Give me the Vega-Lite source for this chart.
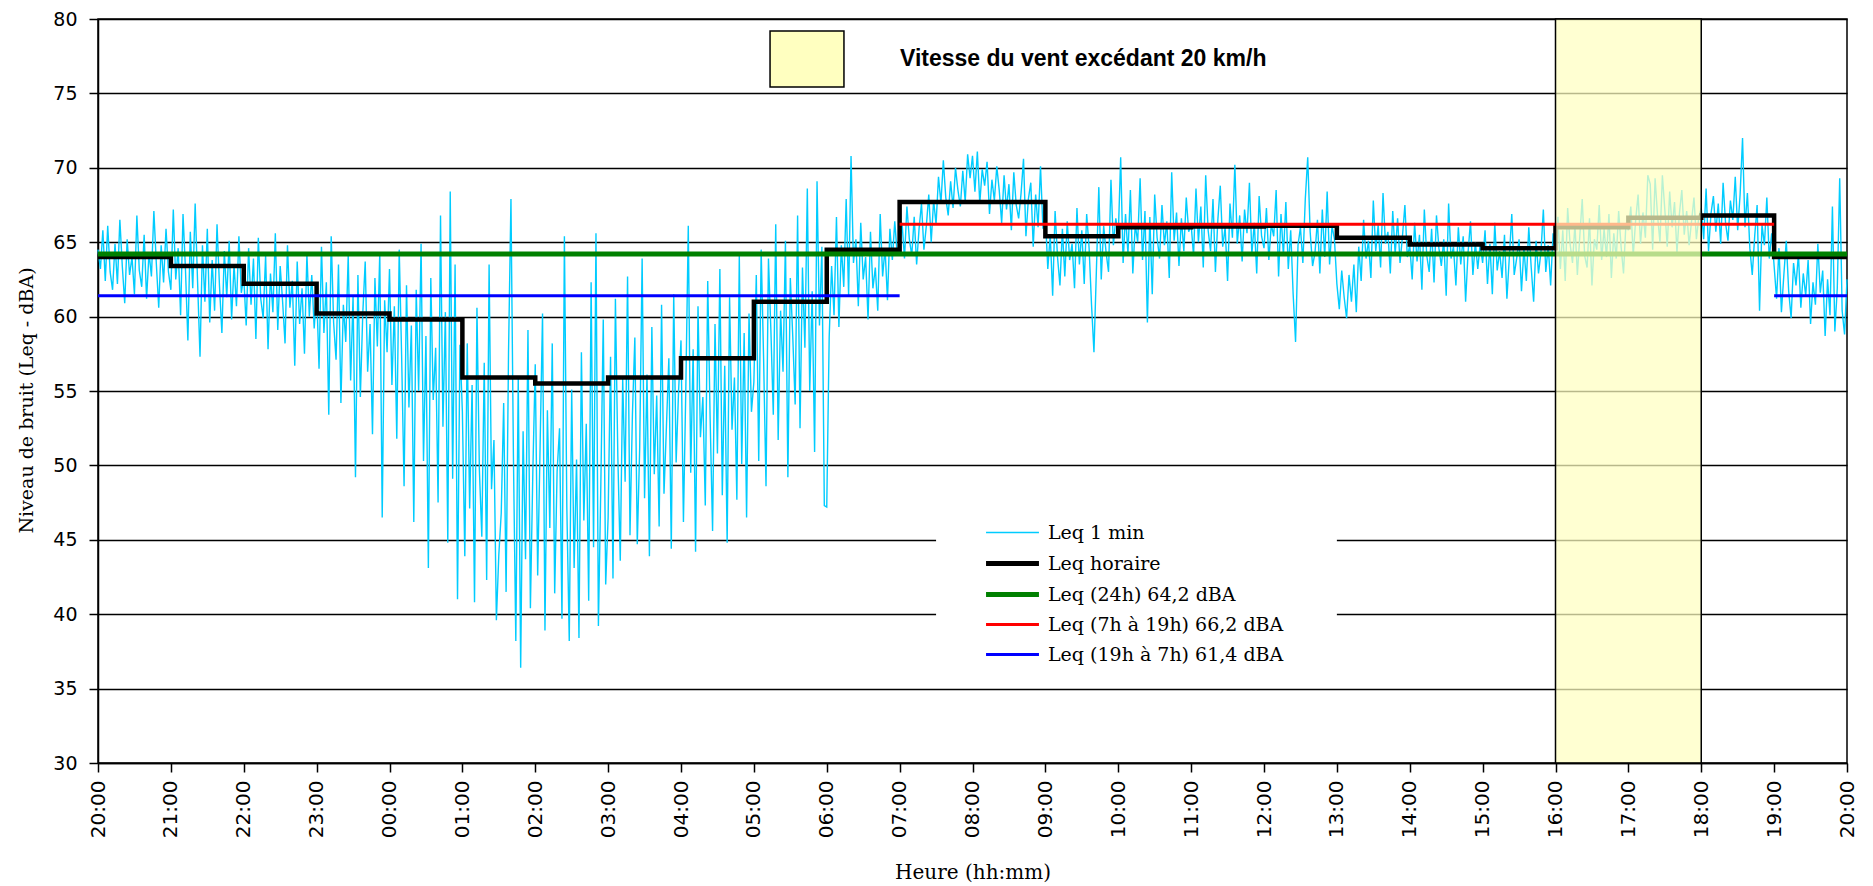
{
"$schema": "https://vega.github.io/schema/vega-lite/v6.json",
"width": 1749, "height": 744,
"autosize": {"type": "none"},
"padding": {"left": 98, "top": 19, "right": 26, "bottom": 123},
"background": "white",
"config": {"view": {"stroke": "black", "strokeWidth": 1.5}},
"datasets": {
"m": [
{"t":0,"v":64.5},{"t":2,"v":63.2},{"t":4,"v":65.8},{"t":6,"v":62.4},{"t":8,"v":66.1},{"t":10,"v":63.0},{"t":12,"v":61.8},{"t":14,"v":64.9},{"t":16,"v":62.2},{"t":18,"v":66.5},{"t":20,"v":63.4},{"t":22,"v":60.9},{"t":24,"v":65.2},{"t":26,"v":62.8},{"t":28,"v":64.0},{"t":30,"v":61.5},{"t":32,"v":66.8},{"t":34,"v":63.1},{"t":36,"v":62.0},{"t":38,"v":65.5},{"t":40,"v":61.2},{"t":42,"v":64.3},{"t":44,"v":62.7},{"t":46,"v":67.1},{"t":48,"v":63.6},{"t":50,"v":60.6},{"t":52,"v":64.8},{"t":54,"v":62.3},{"t":56,"v":65.9},{"t":58,"v":63.0},
{"t":60,"v":61.8},{"t":62,"v":67.2},{"t":64,"v":62.5},{"t":66,"v":64.6},{"t":68,"v":60.1},{"t":70,"v":66.9},{"t":72,"v":63.2},{"t":74,"v":58.4},{"t":76,"v":65.7},{"t":78,"v":61.9},{"t":80,"v":67.6},{"t":82,"v":62.3},{"t":84,"v":57.3},{"t":86,"v":64.8},{"t":88,"v":61.0},{"t":90,"v":65.9},{"t":92,"v":59.6},{"t":94,"v":63.8},{"t":96,"v":60.4},{"t":98,"v":66.2},{"t":100,"v":62.1},{"t":102,"v":58.9},{"t":104,"v":64.4},{"t":106,"v":61.3},{"t":108,"v":65.1},{"t":110,"v":59.8},{"t":112,"v":63.5},{"t":114,"v":60.7},{"t":116,"v":65.4},{"t":118,"v":61.6},
{"t":120,"v":62.7},{"t":122,"v":59.4},{"t":124,"v":64.6},{"t":126,"v":60.8},{"t":128,"v":63.9},{"t":130,"v":58.5},{"t":132,"v":65.3},{"t":134,"v":61.2},{"t":136,"v":59.9},{"t":138,"v":64.1},{"t":140,"v":57.8},{"t":142,"v":62.9},{"t":144,"v":60.3},{"t":146,"v":65.6},{"t":148,"v":59.1},{"t":150,"v":63.4},{"t":152,"v":61.0},{"t":154,"v":58.2},{"t":156,"v":64.8},{"t":158,"v":60.6},{"t":160,"v":62.4},{"t":162,"v":56.7},{"t":164,"v":63.7},{"t":166,"v":59.5},{"t":168,"v":61.9},{"t":170,"v":57.5},{"t":172,"v":64.2},{"t":174,"v":60.0},{"t":176,"v":62.8},{"t":178,"v":59.2},
{"t":180,"v":61.8},{"t":182,"v":56.5},{"t":184,"v":64.7},{"t":186,"v":58.9},{"t":188,"v":62.3},{"t":190,"v":53.4},{"t":192,"v":65.4},{"t":194,"v":59.6},{"t":196,"v":57.1},{"t":198,"v":63.5},{"t":200,"v":54.2},{"t":202,"v":60.8},{"t":204,"v":58.3},{"t":206,"v":64.1},{"t":208,"v":55.7},{"t":210,"v":61.4},{"t":212,"v":49.2},{"t":214,"v":62.8},{"t":216,"v":54.6},{"t":218,"v":60.2},{"t":220,"v":63.7},{"t":222,"v":56.3},{"t":224,"v":59.5},{"t":226,"v":52.1},{"t":228,"v":62.6},{"t":230,"v":58.0},{"t":232,"v":64.3},{"t":234,"v":46.5},{"t":236,"v":61.1},{"t":238,"v":57.6},
{"t":240,"v":63.2},{"t":242,"v":55.4},{"t":244,"v":60.7},{"t":246,"v":51.8},{"t":248,"v":64.5},{"t":250,"v":57.3},{"t":252,"v":48.6},{"t":254,"v":62.1},{"t":256,"v":53.9},{"t":258,"v":59.4},{"t":260,"v":46.2},{"t":262,"v":61.8},{"t":264,"v":55.0},{"t":266,"v":64.9},{"t":268,"v":50.3},{"t":270,"v":58.7},{"t":272,"v":43.1},{"t":274,"v":62.6},{"t":276,"v":54.4},{"t":278,"v":57.9},{"t":280,"v":47.5},{"t":282,"v":66.8},{"t":284,"v":52.6},{"t":286,"v":60.3},{"t":288,"v":44.8},{"t":290,"v":68.4},{"t":292,"v":49.1},{"t":294,"v":63.5},{"t":296,"v":41.0},{"t":298,"v":58.1},
{"t":300,"v":53.6},{"t":302,"v":43.9},{"t":304,"v":58.2},{"t":306,"v":47.1},{"t":308,"v":55.4},{"t":310,"v":40.8},{"t":312,"v":60.6},{"t":314,"v":49.7},{"t":316,"v":45.2},{"t":318,"v":56.9},{"t":320,"v":42.3},{"t":322,"v":63.5},{"t":324,"v":48.4},{"t":326,"v":51.7},{"t":328,"v":39.6},{"t":330,"v":44.0},{"t":332,"v":46.8},{"t":334,"v":54.2},{"t":336,"v":41.5},{"t":338,"v":57.6},{"t":340,"v":67.9},{"t":342,"v":50.8},{"t":344,"v":38.2},{"t":346,"v":55.9},{"t":348,"v":36.4},{"t":350,"v":52.3},{"t":352,"v":43.7},{"t":354,"v":59.1},{"t":356,"v":40.4},{"t":358,"v":49.5},
{"t":360,"v":56.8},{"t":362,"v":42.6},{"t":364,"v":51.3},{"t":366,"v":60.2},{"t":368,"v":38.9},{"t":370,"v":53.7},{"t":372,"v":45.8},{"t":374,"v":58.2},{"t":376,"v":41.4},{"t":378,"v":49.6},{"t":380,"v":52.5},{"t":382,"v":39.7},{"t":384,"v":65.4},{"t":386,"v":47.2},{"t":388,"v":38.2},{"t":390,"v":55.1},{"t":392,"v":43.1},{"t":394,"v":50.4},{"t":396,"v":38.4},{"t":398,"v":57.6},{"t":400,"v":46.3},{"t":402,"v":52.8},{"t":404,"v":40.9},{"t":406,"v":62.3},{"t":408,"v":44.5},{"t":410,"v":65.6},{"t":412,"v":39.2},{"t":414,"v":48.7},{"t":416,"v":59.8},{"t":418,"v":42.0},
{"t":420,"v":46.5},{"t":422,"v":57.3},{"t":424,"v":42.4},{"t":426,"v":61.2},{"t":428,"v":50.6},{"t":430,"v":43.6},{"t":432,"v":55.8},{"t":434,"v":48.9},{"t":436,"v":62.7},{"t":438,"v":45.3},{"t":440,"v":53.4},{"t":442,"v":58.6},{"t":444,"v":44.7},{"t":446,"v":51.2},{"t":448,"v":63.9},{"t":450,"v":47.8},{"t":452,"v":56.1},{"t":454,"v":43.9},{"t":456,"v":59.3},{"t":458,"v":49.4},{"t":460,"v":54.7},{"t":462,"v":45.9},{"t":464,"v":60.8},{"t":466,"v":48.1},{"t":468,"v":52.6},{"t":470,"v":57.2},{"t":472,"v":44.4},{"t":474,"v":61.5},{"t":476,"v":50.2},{"t":478,"v":55.0},
{"t":480,"v":58.4},{"t":482,"v":46.2},{"t":484,"v":55.3},{"t":486,"v":66.1},{"t":488,"v":49.5},{"t":490,"v":57.8},{"t":492,"v":44.2},{"t":494,"v":60.7},{"t":496,"v":51.9},{"t":498,"v":54.6},{"t":500,"v":47.3},{"t":502,"v":62.4},{"t":504,"v":53.1},{"t":506,"v":45.6},{"t":508,"v":59.5},{"t":510,"v":50.8},{"t":512,"v":63.2},{"t":514,"v":48.0},{"t":516,"v":56.7},{"t":518,"v":44.8},{"t":520,"v":61.3},{"t":522,"v":52.4},{"t":524,"v":55.9},{"t":526,"v":47.7},{"t":528,"v":64.1},{"t":530,"v":50.1},{"t":532,"v":58.9},{"t":534,"v":46.5},{"t":536,"v":60.2},{"t":538,"v":53.6},
{"t":540,"v":55.6},{"t":542,"v":62.8},{"t":544,"v":50.3},{"t":546,"v":64.5},{"t":548,"v":57.2},{"t":550,"v":48.6},{"t":552,"v":63.9},{"t":554,"v":59.1},{"t":556,"v":53.4},{"t":558,"v":66.2},{"t":560,"v":51.7},{"t":562,"v":60.4},{"t":564,"v":56.3},{"t":566,"v":65.1},{"t":568,"v":49.2},{"t":570,"v":62.6},{"t":572,"v":58.7},{"t":574,"v":54.1},{"t":576,"v":66.8},{"t":578,"v":52.5},{"t":580,"v":63.3},{"t":582,"v":57.9},{"t":584,"v":68.6},{"t":586,"v":55.0},{"t":588,"v":61.7},{"t":590,"v":50.9},{"t":592,"v":69.1},{"t":594,"v":59.4},{"t":596,"v":64.7},{"t":598,"v":47.3},
{"t":600,"v":47.2},{"t":602,"v":58.6},{"t":604,"v":63.4},{"t":606,"v":60.1},{"t":608,"v":66.7},{"t":610,"v":59.3},{"t":612,"v":64.8},{"t":614,"v":62.0},{"t":616,"v":67.9},{"t":618,"v":61.4},{"t":620,"v":70.8},{"t":622,"v":63.6},{"t":624,"v":65.2},{"t":626,"v":60.7},{"t":628,"v":66.3},{"t":630,"v":62.5},{"t":632,"v":64.0},{"t":634,"v":59.8},{"t":636,"v":65.7},{"t":638,"v":61.9},{"t":640,"v":63.3},{"t":642,"v":60.4},{"t":644,"v":66.9},{"t":646,"v":62.7},{"t":648,"v":64.6},{"t":650,"v":61.1},{"t":652,"v":65.9},{"t":654,"v":63.8},{"t":656,"v":66.4},{"t":658,"v":64.2},
{"t":660,"v":64.8},{"t":662,"v":66.3},{"t":664,"v":63.9},{"t":666,"v":67.4},{"t":668,"v":65.2},{"t":670,"v":64.1},{"t":672,"v":66.7},{"t":674,"v":63.5},{"t":676,"v":65.9},{"t":678,"v":67.6},{"t":680,"v":64.5},{"t":682,"v":66.1},{"t":684,"v":68.2},{"t":686,"v":65.0},{"t":688,"v":67.8},{"t":690,"v":66.2},{"t":692,"v":69.4},{"t":694,"v":67.6},{"t":696,"v":70.5},{"t":698,"v":68.0},{"t":700,"v":66.8},{"t":702,"v":69.1},{"t":704,"v":67.3},{"t":706,"v":70.0},{"t":708,"v":68.5},{"t":710,"v":67.4},{"t":712,"v":69.8},{"t":714,"v":67.7},{"t":716,"v":70.9},{"t":718,"v":69.3},
{"t":720,"v":70.8},{"t":722,"v":68.4},{"t":724,"v":71.1},{"t":726,"v":67.6},{"t":728,"v":69.9},{"t":730,"v":68.8},{"t":732,"v":70.4},{"t":734,"v":66.9},{"t":736,"v":69.2},{"t":738,"v":67.8},{"t":740,"v":70.1},{"t":742,"v":68.5},{"t":744,"v":66.3},{"t":746,"v":69.5},{"t":748,"v":67.2},{"t":750,"v":68.9},{"t":752,"v":65.8},{"t":754,"v":69.7},{"t":756,"v":67.5},{"t":758,"v":66.6},{"t":760,"v":68.3},{"t":762,"v":70.6},{"t":764,"v":65.4},{"t":766,"v":67.9},{"t":768,"v":69.0},{"t":770,"v":64.7},{"t":772,"v":68.2},{"t":774,"v":66.0},{"t":776,"v":70.1},{"t":778,"v":65.9},
{"t":780,"v":66.8},{"t":782,"v":63.2},{"t":784,"v":65.5},{"t":786,"v":61.4},{"t":788,"v":67.1},{"t":790,"v":64.0},{"t":792,"v":62.1},{"t":794,"v":65.9},{"t":796,"v":62.7},{"t":798,"v":66.4},{"t":800,"v":63.8},{"t":802,"v":64.9},{"t":804,"v":61.9},{"t":806,"v":67.3},{"t":808,"v":63.5},{"t":810,"v":65.8},{"t":812,"v":62.2},{"t":814,"v":66.9},{"t":816,"v":64.6},{"t":818,"v":60.8},{"t":820,"v":57.6},{"t":822,"v":63.1},{"t":824,"v":68.7},{"t":826,"v":62.5},{"t":828,"v":66.1},{"t":830,"v":64.3},{"t":832,"v":63.0},{"t":834,"v":69.2},{"t":836,"v":64.8},{"t":838,"v":66.6},
{"t":840,"v":65.4},{"t":842,"v":70.7},{"t":844,"v":63.6},{"t":846,"v":66.9},{"t":848,"v":64.2},{"t":850,"v":68.5},{"t":852,"v":62.9},{"t":854,"v":66.2},{"t":856,"v":65.0},{"t":858,"v":69.3},{"t":860,"v":63.8},{"t":862,"v":67.1},{"t":864,"v":59.6},{"t":866,"v":66.7},{"t":868,"v":61.5},{"t":870,"v":68.2},{"t":872,"v":65.3},{"t":874,"v":63.9},{"t":876,"v":67.5},{"t":878,"v":64.8},{"t":880,"v":66.4},{"t":882,"v":62.6},{"t":884,"v":69.7},{"t":886,"v":65.1},{"t":888,"v":67.0},{"t":890,"v":63.4},{"t":892,"v":66.6},{"t":894,"v":64.4},{"t":896,"v":68.0},{"t":898,"v":65.7},
{"t":900,"v":66.2},{"t":902,"v":64.1},{"t":904,"v":68.6},{"t":906,"v":65.0},{"t":908,"v":67.4},{"t":910,"v":63.3},{"t":912,"v":69.5},{"t":914,"v":65.8},{"t":916,"v":64.4},{"t":918,"v":67.9},{"t":920,"v":63.0},{"t":922,"v":66.5},{"t":924,"v":68.8},{"t":926,"v":64.7},{"t":928,"v":66.0},{"t":930,"v":62.4},{"t":932,"v":67.6},{"t":934,"v":65.3},{"t":936,"v":70.2},{"t":938,"v":64.9},{"t":940,"v":66.8},{"t":942,"v":63.7},{"t":944,"v":67.2},{"t":946,"v":65.6},{"t":948,"v":69.0},{"t":950,"v":64.2},{"t":952,"v":66.3},{"t":954,"v":62.9},{"t":956,"v":68.1},{"t":958,"v":65.4},
{"t":960,"v":64.6},{"t":962,"v":67.3},{"t":964,"v":63.8},{"t":966,"v":66.2},{"t":968,"v":65.4},{"t":970,"v":68.5},{"t":972,"v":62.7},{"t":974,"v":66.9},{"t":976,"v":64.1},{"t":978,"v":67.7},{"t":980,"v":63.2},{"t":982,"v":65.8},{"t":984,"v":61.5},{"t":986,"v":58.3},{"t":988,"v":64.8},{"t":990,"v":66.0},{"t":992,"v":63.6},{"t":994,"v":67.9},{"t":996,"v":70.7},{"t":998,"v":65.7},{"t":1000,"v":63.4},{"t":1002,"v":64.3},{"t":1004,"v":66.5},{"t":1006,"v":62.9},{"t":1008,"v":67.2},{"t":1010,"v":64.0},{"t":1012,"v":68.4},{"t":1014,"v":63.5},{"t":1016,"v":66.1},{"t":1018,"v":65.2},
{"t":1020,"v":62.2},{"t":1022,"v":60.5},{"t":1024,"v":63.1},{"t":1026,"v":61.3},{"t":1028,"v":59.9},{"t":1030,"v":62.8},{"t":1032,"v":61.0},{"t":1034,"v":63.5},{"t":1036,"v":60.3},{"t":1038,"v":64.7},{"t":1040,"v":62.4},{"t":1042,"v":66.5},{"t":1044,"v":63.9},{"t":1046,"v":65.1},{"t":1048,"v":62.6},{"t":1050,"v":67.8},{"t":1052,"v":64.4},{"t":1054,"v":66.2},{"t":1056,"v":63.3},{"t":1058,"v":68.3},{"t":1060,"v":64.9},{"t":1062,"v":65.7},{"t":1064,"v":62.9},{"t":1066,"v":67.1},{"t":1068,"v":64.2},{"t":1070,"v":66.6},{"t":1072,"v":63.6},{"t":1074,"v":65.4},{"t":1076,"v":67.5},{"t":1078,"v":64.0},
{"t":1080,"v":64.8},{"t":1082,"v":62.5},{"t":1084,"v":66.3},{"t":1086,"v":63.7},{"t":1088,"v":65.5},{"t":1090,"v":61.8},{"t":1092,"v":67.2},{"t":1094,"v":64.1},{"t":1096,"v":63.0},{"t":1098,"v":65.9},{"t":1100,"v":62.3},{"t":1102,"v":66.8},{"t":1104,"v":64.6},{"t":1106,"v":63.4},{"t":1108,"v":65.2},{"t":1110,"v":61.4},{"t":1112,"v":67.6},{"t":1114,"v":63.9},{"t":1116,"v":64.7},{"t":1118,"v":62.1},{"t":1120,"v":66.0},{"t":1122,"v":63.5},{"t":1124,"v":65.4},{"t":1126,"v":61.0},{"t":1128,"v":64.3},{"t":1130,"v":66.4},{"t":1132,"v":62.8},{"t":1134,"v":65.0},{"t":1136,"v":63.2},{"t":1138,"v":64.9},
{"t":1140,"v":63.6},{"t":1142,"v":65.8},{"t":1144,"v":62.2},{"t":1146,"v":64.9},{"t":1148,"v":61.5},{"t":1150,"v":66.3},{"t":1152,"v":63.1},{"t":1154,"v":64.4},{"t":1156,"v":62.6},{"t":1158,"v":65.5},{"t":1160,"v":61.2},{"t":1162,"v":64.0},{"t":1164,"v":66.9},{"t":1166,"v":62.8},{"t":1168,"v":63.9},{"t":1170,"v":65.2},{"t":1172,"v":61.7},{"t":1174,"v":64.6},{"t":1176,"v":62.4},{"t":1178,"v":66.0},{"t":1180,"v":63.3},{"t":1182,"v":61.0},{"t":1184,"v":65.1},{"t":1186,"v":62.9},{"t":1188,"v":64.3},{"t":1190,"v":67.2},{"t":1192,"v":63.0},{"t":1194,"v":64.8},{"t":1196,"v":62.1},{"t":1198,"v":65.6},
{"t":1200,"v":64.3},{"t":1202,"v":66.7},{"t":1204,"v":63.2},{"t":1206,"v":65.8},{"t":1208,"v":62.4},{"t":1210,"v":67.3},{"t":1212,"v":64.9},{"t":1214,"v":63.6},{"t":1216,"v":66.2},{"t":1218,"v":62.8},{"t":1220,"v":65.4},{"t":1222,"v":67.9},{"t":1224,"v":64.1},{"t":1226,"v":63.3},{"t":1228,"v":66.6},{"t":1230,"v":62.1},{"t":1232,"v":65.2},{"t":1234,"v":64.5},{"t":1236,"v":67.5},{"t":1238,"v":63.8},{"t":1240,"v":65.9},{"t":1242,"v":64.0},{"t":1244,"v":66.9},{"t":1246,"v":62.6},{"t":1248,"v":65.6},{"t":1250,"v":63.9},{"t":1252,"v":67.1},{"t":1254,"v":64.7},{"t":1256,"v":62.9},{"t":1258,"v":66.3},
{"t":1260,"v":65.8},{"t":1262,"v":67.4},{"t":1264,"v":64.1},{"t":1266,"v":66.5},{"t":1268,"v":68.2},{"t":1270,"v":64.9},{"t":1272,"v":67.0},{"t":1274,"v":65.3},{"t":1276,"v":69.5},{"t":1278,"v":68.9},{"t":1280,"v":64.5},{"t":1282,"v":69.3},{"t":1284,"v":66.8},{"t":1286,"v":65.0},{"t":1288,"v":69.5},{"t":1290,"v":67.2},{"t":1292,"v":64.7},{"t":1294,"v":68.4},{"t":1296,"v":66.0},{"t":1298,"v":67.7},{"t":1300,"v":64.3},{"t":1302,"v":66.9},{"t":1304,"v":68.5},{"t":1306,"v":65.5},{"t":1308,"v":67.1},{"t":1310,"v":64.8},{"t":1312,"v":66.4},{"t":1314,"v":68.0},{"t":1316,"v":65.2},{"t":1318,"v":66.7},
{"t":1320,"v":67.3},{"t":1322,"v":65.2},{"t":1324,"v":68.6},{"t":1326,"v":64.4},{"t":1328,"v":66.9},{"t":1330,"v":68.1},{"t":1332,"v":65.7},{"t":1334,"v":67.6},{"t":1336,"v":64.9},{"t":1338,"v":69.0},{"t":1340,"v":66.3},{"t":1342,"v":65.1},{"t":1344,"v":67.8},{"t":1346,"v":66.5},{"t":1348,"v":69.4},{"t":1350,"v":65.8},{"t":1352,"v":68.2},{"t":1354,"v":72.0},{"t":1356,"v":66.0},{"t":1358,"v":68.3},{"t":1360,"v":64.6},{"t":1362,"v":62.8},{"t":1364,"v":65.4},{"t":1366,"v":67.5},{"t":1368,"v":60.4},{"t":1370,"v":66.2},{"t":1372,"v":64.8},{"t":1374,"v":68.0},{"t":1376,"v":63.9},{"t":1378,"v":65.6},
{"t":1380,"v":63.4},{"t":1382,"v":61.2},{"t":1384,"v":64.6},{"t":1386,"v":60.3},{"t":1388,"v":62.8},{"t":1390,"v":65.1},{"t":1392,"v":61.7},{"t":1394,"v":59.9},{"t":1396,"v":63.6},{"t":1398,"v":62.1},{"t":1400,"v":64.2},{"t":1402,"v":60.6},{"t":1404,"v":62.9},{"t":1406,"v":61.4},{"t":1408,"v":63.8},{"t":1410,"v":59.5},{"t":1412,"v":62.3},{"t":1414,"v":60.8},{"t":1416,"v":64.9},{"t":1418,"v":61.6},{"t":1420,"v":63.1},{"t":1422,"v":58.7},{"t":1424,"v":62.5},{"t":1426,"v":60.1},{"t":1428,"v":67.4},{"t":1430,"v":59.0},{"t":1432,"v":61.9},{"t":1434,"v":69.3},{"t":1436,"v":60.4},{"t":1438,"v":58.8},{"t":1440,"v":62.5}
],
"h": [
{"t":0,"v":64.0},{"t":60,"v":63.4},{"t":120,"v":62.2},{"t":180,"v":60.2},{"t":240,"v":59.8},{"t":300,"v":55.9},{"t":360,"v":55.5},{"t":420,"v":55.9},{"t":480,"v":57.2},{"t":540,"v":61.0},{"t":600,"v":64.5},{"t":660,"v":67.7},{"t":720,"v":67.7},{"t":780,"v":65.4},{"t":840,"v":66.0},{"t":900,"v":66.05},{"t":960,"v":66.1},{"t":1020,"v":65.3},{"t":1080,"v":64.85},{"t":1140,"v":64.6},{"t":1200,"v":66.0},{"t":1260,"v":66.65},{"t":1320,"v":66.8},{"t":1380,"v":64.0},{"t":1440,"v":64.0}
]
},
"layer": [
{"data": {"name": "m"}, "mark": {"type": "line", "strokeWidth": 1.4},
 "encoding": {
  "x": {"field": "t", "type": "quantitative", "scale": {"domain": [0, 1440], "nice": false, "zero": false},
    "axis": {"values": [0,60,120,180,240,300,360,420,480,540,600,660,720,780,840,900,960,1020,1080,1140,1200,1260,1320,1380,1440],
      "labelExpr": "((floor(datum.value/60)+20)%24 < 10 ? '0' : '') + ((floor(datum.value/60)+20)%24) + ':00'",
      "labelAngle": -90, "labelFont": "DejaVu Sans", "labelFontSize": 20, "labelColor": "black", "labelPadding": 8,
      "labelFlush": false, "labelOverlap": false,
      "tickSize": 9, "tickColor": "black", "tickWidth": 1.5, "domainColor": "black", "domainWidth": 1.5, "grid": false,
      "title": "Heure (hh:mm)", "titleFont": "DejaVu Serif", "titleFontSize": 20, "titleFontWeight": "normal", "titleColor": "black",
      "titleY": 109, "titleBaseline": "middle"}},
  "y": {"field": "v", "type": "quantitative", "scale": {"domain": [30, 80], "nice": false, "zero": false},
    "axis": {"values": [30,35,40,45,50,55,60,65,70,75,80],
      "labelFont": "DejaVu Sans", "labelFontSize": 19, "labelColor": "black", "labelPadding": 12,
      "tickSize": 9, "tickColor": "black", "tickWidth": 1.5, "domainColor": "black", "domainWidth": 1.5,
      "grid": true, "gridColor": "black", "gridWidth": 1.3,
      "title": "Niveau de bruit (Leq - dBA)", "titleFont": "DejaVu Serif", "titleFontSize": 19, "titleFontWeight": "normal", "titleColor": "black",
      "titleX": -72, "titleY": 381, "titleAngle": -90, "titleBaseline": "middle", "titleAlign": "center"}},
  "color": {"datum": "Leq 1 min",
   "scale": {"domain": ["Leq 1 min", "Leq horaire", "Leq (24h) 64,2 dBA", "Leq (7h à 19h) 66,2 dBA", "Leq (19h à 7h) 61,4 dBA"],
             "range": ["#00CCFF", "#000000", "#008000", "#FF0000", "#0000FF"]},
   "legend": {"orient": "none", "legendX": 905, "legendY": 504, "title": null, "padding": 0,
     "symbolType": "M-5,0H5", "symbolSize": 112, "labelOffset": 26, "rowPadding": 10,
     "labelFont": "DejaVu Serif", "labelFontSize": 19, "labelColor": "black", "labelLimit": 500,
     "encode": {"symbols": {"update": {"strokeWidth": {"signal": "datum.value == 'Leq 1 min' ? 1.5 : ((datum.value == 'Leq horaire' || datum.value == 'Leq (24h) 64,2 dBA') ? 5 : 3)"}}}}}}}},
{"data": {"values": [{}]}, "mark": {"type": "rect", "fill": "white"},
 "encoding": {"x": {"datum": 690}, "x2": {"datum": 1020}, "y": {"datum": 46.9}, "y2": {"datum": 36.1}}},
{"data": {"name": "h"}, "mark": {"type": "line", "strokeWidth": 4.5, "interpolate": "step-after"},
 "encoding": {"x": {"field": "t", "type": "quantitative"}, "y": {"field": "v", "type": "quantitative"}, "color": {"datum": "Leq horaire"}}},
{"data": {"values": [{"t": 0, "v": 64.2}, {"t": 1440, "v": 64.2}]}, "mark": {"type": "line", "strokeWidth": 5},
 "encoding": {"x": {"field": "t", "type": "quantitative"}, "y": {"field": "v", "type": "quantitative"}, "color": {"datum": "Leq (24h) 64,2 dBA"}}},
{"data": {"values": [{"t": 660, "v": 66.2}, {"t": 1380, "v": 66.2}]}, "mark": {"type": "line", "strokeWidth": 3},
 "encoding": {"x": {"field": "t", "type": "quantitative"}, "y": {"field": "v", "type": "quantitative"}, "color": {"datum": "Leq (7h à 19h) 66,2 dBA"}}},
{"data": {"values": [{"g": 1, "t": 0, "v": 61.4}, {"g": 1, "t": 660, "v": 61.4}, {"g": 2, "t": 1380, "v": 61.4}, {"g": 2, "t": 1440, "v": 61.4}]},
 "mark": {"type": "line", "strokeWidth": 3},
 "encoding": {"x": {"field": "t", "type": "quantitative"}, "y": {"field": "v", "type": "quantitative"}, "color": {"datum": "Leq (19h à 7h) 61,4 dBA"}, "detail": {"field": "g"}}},
{"data": {"values": [{"w": "Vitesse du vent excédant 20 km/h", "t": 1200, "t2": 1320}]},
 "mark": {"type": "rect", "fillOpacity": 0.72, "stroke": "black", "strokeWidth": 1.5},
 "encoding": {"x": {"field": "t", "type": "quantitative"}, "x2": {"field": "t2"}, "y": {"datum": 80}, "y2": {"datum": 30},
   "fill": {"field": "w", "type": "nominal", "scale": {"range": ["#FFFFC0"]},
     "legend": {"orient": "none", "legendX": 680, "legendY": 11, "title": null, "padding": 0,
       "symbolType": "M-1.32,-1H1.32V1H-1.32Z", "symbolSize": 3136, "symbolStrokeColor": "black", "symbolStrokeWidth": 1.5, "symbolOpacity": 1,
       "labelFont": "Liberation Sans Narrow, Liberation Sans", "labelFontWeight": "bold", "labelFontSize": 23, "labelColor": "black",
       "labelOffset": 64, "labelLimit": 600}}}}
]
}
